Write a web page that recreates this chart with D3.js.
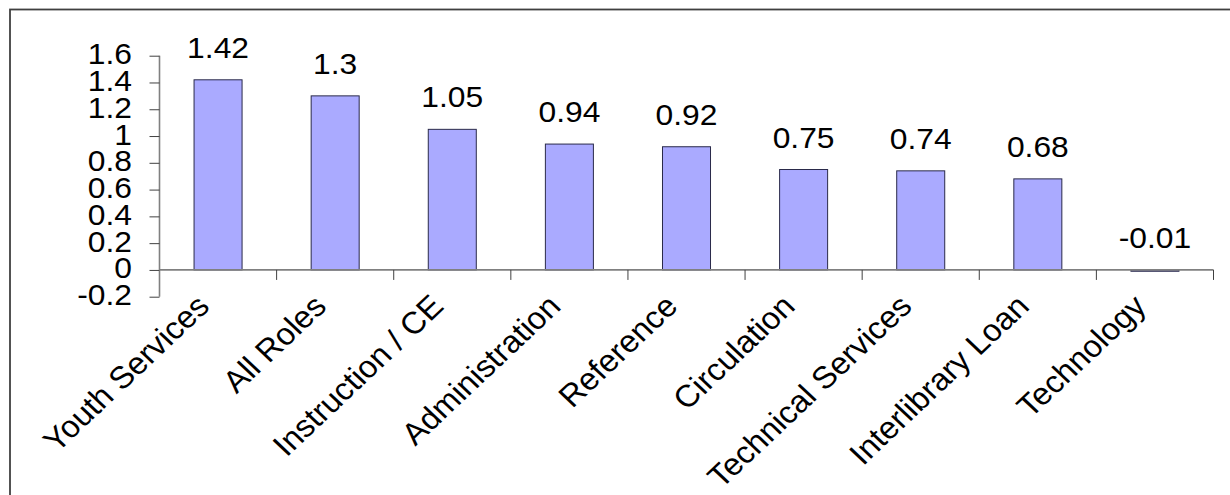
<!DOCTYPE html>
<html>
<head>
<meta charset="utf-8">
<script src="https://cdn.jsdelivr.net/npm/d3@7"></script>
<style>
  body { margin: 0; background: #fff; }
  text { font-family: "Liberation Sans", Arial, sans-serif; fill: #000; }
</style>
</head>
<body>
<script>
// data
var roles = ["Youth Services", "All Roles", "Instruction / CE", "Administration", "Reference",
             "Circulation", "Technical Services", "Interlibrary Loan", "Technology"];
var values = [1.42, 1.3, 1.05, 0.94, 0.92, 0.75, 0.74, 0.68, -0.01];
var yTicks = [-0.2, 0, 0.2, 0.4, 0.6, 0.8, 1, 1.2, 1.4, 1.6];

//Settings
var width = 1230;
var height = 495;
var plotLeft = 159.5, plotRight = 1213.5, plotTop = 55.7, plotBottom = 296.7;
var fontSize = 30;
var catFontSize = 31;
var stretch = 1.06;   // source picture is a bit wider than tall

var svg = d3.select("body").append("svg").attr("width", width).attr("height", height);

//Frame (runs off right and bottom edge)
svg.append("rect").attr("x", 10).attr("y", 9.5).attr("width", 1300).attr("height", 600)
    .attr("fill", "none").attr("stroke", "#404040").attr("stroke-width", 1.8);

//Scales
var y = d3.scaleLinear().domain([-0.2, 1.6]).range([plotBottom, plotTop]);
var x = d3.scaleBand().domain(roles).range([plotLeft, plotRight]).paddingInner(0.59).paddingOuter(0.295);
var step = x.step();

//Bars
svg.selectAll("rect.bar").data(values).enter().append("rect").attr("class", "bar")
    .attr("x", (d, i) => x(roles[i]))
    .attr("y", d => y(Math.max(d, 0)))
    .attr("width", x.bandwidth())
    .attr("height", d => Math.max(Math.abs(y(d) - y(0)), 1.2))
    .attr("fill", "#aaaaff").attr("stroke", "#2a2a4a").attr("stroke-width", 1);

//Y axis
var yAxis = svg.append("g").attr("transform", "translate(" + plotLeft + ",0)")
    .call(d3.axisLeft(y).tickValues(yTicks).tickSize(10).tickFormat(""));
yAxis.select(".domain").attr("stroke", "#808080").attr("stroke-width", 1.6).attr("d", "M0," + plotBottom + "V" + plotTop);
yAxis.selectAll(".tick line").attr("stroke", "#404040").attr("stroke-width", 1);

yTicks.forEach(t => {
    svg.append("text")
        .attr("transform", "translate(132," + (y(t) + 8.5) + ") scale(" + stretch + ",1)")
        .attr("text-anchor", "end").attr("font-size", fontSize)
        .text(String(t));
});

//X axis at zero
var bounds = roles.map((r, i) => plotLeft + i * step).concat([plotRight]);
svg.append("line").attr("x1", plotLeft).attr("x2", plotRight).attr("y1", y(0)).attr("y2", y(0))
    .attr("stroke", "#808080").attr("stroke-width", 1.6);
svg.selectAll("line.xtick").data(bounds.slice(1)).enter().append("line").attr("class", "xtick")
    .attr("x1", d => d).attr("x2", d => d).attr("y1", y(0)).attr("y2", y(0) + 10)
    .attr("stroke", "#404040").attr("stroke-width", 1);

//Value labels
values.forEach((v, i) => {
    var cx = x(roles[i]) + x.bandwidth() / 2;
    svg.append("text")
        .attr("transform", "translate(" + cx + "," + (y(Math.max(v, 0)) - 22) + ") scale(" + stretch + ",1)")
        .attr("text-anchor", "middle").attr("font-size", fontSize)
        .text(String(v));
});

//Category labels
roles.forEach((r, i) => {
    var cx = plotLeft + (i + 0.5) * step;
    svg.append("text")
        .attr("transform", "translate(" + (cx - 7) + "," + 308 + ") scale(" + stretch + ",1) rotate(-45)")
        .attr("text-anchor", "end").attr("font-size", catFontSize)
        .text(r);
});
</script>
</body>
</html>
